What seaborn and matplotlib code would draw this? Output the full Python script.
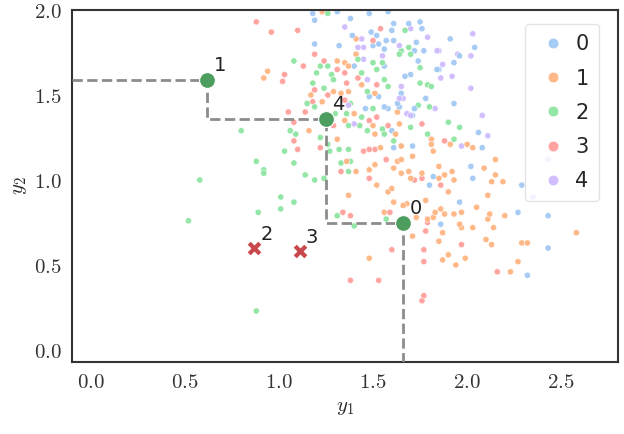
import numpy as np
import pandas as pd
import seaborn as sns
import matplotlib.pyplot as plt
from matplotlib.ticker import FuncFormatter

# scatter values per class
y1_c0 = [1.18, 1.31, 1.19, 1.38, 1.48, 1.58, 1.61, 1.69, 1.75, 1.76, 1.49, 1.52, 1.39, 1.57, 1.61, 1.60,
         1.19, 1.32, 1.50, 1.53, 1.56, 1.73, 1.72, 1.77, 1.74, 1.40, 1.56, 1.84, 1.67, 1.70, 1.65, 1.48,
         1.53, 1.78, 1.63, 1.46, 1.56, 1.58, 1.64, 1.72, 1.71, 1.60, 1.61, 1.71, 1.82, 1.80, 1.91, 2.04,
         1.96, 1.93, 1.85, 1.93, 2.06, 2.08, 2.02, 2.03, 2.29, 1.86, 1.96, 2.27, 2.43, 2.43, 2.32, 1.65]
y2_c0 = [1.98, 1.99, 1.94, 1.95, 1.98, 1.99, 1.92, 1.92, 1.93, 1.89, 1.87, 1.85, 1.85, 1.82, 1.82, 1.88,
         1.80, 1.79, 1.79, 1.80, 1.77, 1.81, 1.76, 1.76, 1.70, 1.67, 1.67, 1.65, 1.61, 1.62, 1.51, 1.49,
         1.49, 1.48, 1.45, 1.42, 1.43, 1.42, 1.43, 1.42, 1.38, 1.29, 1.19, 1.20, 1.02, 0.97, 1.83, 1.78,
         1.73, 1.69, 1.65, 1.45, 1.28, 1.19, 1.08, 1.01, 0.97, 0.74, 0.87, 0.81, 0.79, 0.60, 0.44, 1.20]

y1_c1 = [1.23, 1.41, 1.41, 1.31, 1.35, 1.37, 0.94, 0.92, 1.44, 1.29, 1.33, 1.37, 1.51, 1.17, 1.23, 1.40,
         1.63, 1.35, 1.50, 1.64, 1.16, 1.51, 1.62, 1.81, 1.31, 1.54, 1.65, 1.81, 1.82, 1.71, 1.36, 1.51,
         1.63, 1.65, 1.41, 1.48, 1.61, 1.65, 1.69, 1.70, 1.76, 1.52, 1.60, 1.58, 1.37, 1.91, 2.00, 2.03,
         2.15, 2.09, 2.15, 1.85, 1.92, 1.88, 1.85, 1.93, 2.19, 2.13, 1.90, 2.11, 1.61, 1.66, 1.68, 1.56,
         1.78, 1.86, 1.88, 1.83, 1.79, 1.82, 1.73, 1.93, 1.97, 2.05, 2.12, 2.11, 2.20, 1.96, 1.97, 2.03,
         2.14, 1.87, 1.71, 2.58, 1.85, 2.10, 2.13, 2.29, 2.32, 1.90, 1.87, 1.99, 2.27, 1.94, 2.23, 1.48]
y2_c1 = [1.99, 1.83, 1.74, 1.70, 1.69, 1.67, 1.64, 1.60, 1.56, 1.52, 1.51, 1.52, 1.51, 1.50, 1.46, 1.39,
         1.40, 1.35, 1.32, 1.33, 1.29, 1.27, 1.27, 1.24, 1.24, 1.19, 1.20, 1.21, 1.17, 1.14, 1.11, 1.09,
         1.11, 1.12, 1.05, 1.06, 1.07, 1.04, 1.05, 1.01, 1.04, 0.97, 0.95, 0.93, 0.91, 1.21, 1.21, 1.19,
         1.12, 1.07, 1.03, 1.08, 1.05, 1.03, 1.01, 1.00, 0.99, 0.99, 0.93, 0.91, 0.87, 0.85, 0.86, 0.81,
         0.88, 0.83, 0.80, 0.81, 0.77, 0.78, 0.78, 0.80, 0.81, 0.84, 0.80, 0.77, 0.79, 0.74, 0.72, 0.72,
         0.72, 0.69, 0.67, 0.69, 0.64, 0.65, 0.62, 0.63, 0.63, 0.56, 0.53, 0.54, 0.52, 0.50, 0.46, 0.54]

y1_c2 = [1.26, 1.67, 1.65, 1.69, 1.64, 1.70, 1.08, 1.42, 1.50, 1.55, 1.22, 1.26, 1.52, 1.75, 1.20, 1.28,
         1.44, 1.56, 1.29, 1.18, 1.58, 1.75, 1.79, 1.81, 1.24, 1.47, 1.15, 1.38, 1.19, 1.50, 1.74, 1.80,
         1.30, 1.36, 1.44, 1.37, 1.43, 1.55, 1.70, 1.06, 1.09, 1.47, 1.56, 1.61, 1.79, 1.22, 1.26, 1.27,
         1.32, 1.37, 1.03, 0.88, 1.08, 1.33, 1.38, 0.92, 0.92, 1.14, 1.37, 1.19, 1.24, 1.01, 1.90, 1.96,
         1.93, 1.08, 1.01, 0.89, 1.31, 1.40, 1.57, 0.88, 0.80, 0.58, 0.52]
y2_c2 = [1.98, 1.88, 1.76, 1.78, 1.74, 1.74, 1.70, 1.71, 1.69, 1.69, 1.67, 1.67, 1.65, 1.66, 1.63, 1.62,
         1.63, 1.59, 1.59, 1.57, 1.55, 1.57, 1.56, 1.55, 1.54, 1.52, 1.45, 1.45, 1.43, 1.42, 1.44, 1.43,
         1.39, 1.39, 1.37, 1.32, 1.32, 1.30, 1.31, 1.29, 1.27, 1.29, 1.27, 1.23, 1.27, 1.25, 1.21, 1.17,
         1.18, 1.18, 1.17, 1.11, 1.10, 1.10, 1.11, 1.06, 1.04, 1.03, 1.05, 1.00, 1.01, 0.90, 1.34, 1.31,
         1.24, 0.87, 0.83, 0.81, 0.79, 0.73, 0.77, 0.23, 1.29, 1.00, 0.76]

y1_c3 = [0.88, 0.96, 1.10, 1.54, 1.50, 1.19, 1.13, 1.24, 1.31, 1.03, 1.02, 1.35, 1.42, 1.36, 1.52, 1.19,
         1.26, 1.18, 1.35, 1.05, 1.14, 1.48, 1.52, 1.08, 1.29, 1.58, 1.76, 1.08, 1.10, 1.22, 1.45, 1.48,
         1.51, 1.57, 1.33, 1.72, 1.76, 1.48, 1.88, 1.86, 1.59, 1.79, 1.78, 1.97, 1.60, 1.77, 1.77, 2.16,
         1.53, 1.77, 1.34, 1.38, 1.38, 1.76]
y2_c3 = [1.93, 1.87, 1.88, 1.89, 1.82, 1.74, 1.67, 1.70, 1.65, 1.62, 1.58, 1.63, 1.60, 1.57, 1.56, 1.53,
         1.50, 1.46, 1.47, 1.40, 1.40, 1.35, 1.37, 1.34, 1.32, 1.32, 1.33, 1.23, 1.18, 1.19, 1.17, 1.18,
         1.18, 1.12, 1.05, 1.00, 1.01, 1.01, 1.23, 0.97, 0.81, 0.75, 0.70, 0.62, 0.59, 0.59, 0.52, 0.46,
         0.41, 0.32, 0.81, 0.79, 0.41, 0.29]

y1_c4 = [1.70, 1.35, 1.44, 1.79, 1.42, 1.45, 1.64, 1.84, 1.55, 1.45, 1.47, 1.65, 1.64, 1.37, 1.83, 1.68,
         1.40, 2.03, 1.85, 1.95, 2.02, 1.87, 1.92, 1.86, 2.02, 2.08, 2.11, 1.97, 1.70, 1.66, 2.43, 2.35]
y2_c4 = [1.89, 1.90, 1.83, 1.84, 1.78, 1.78, 1.79, 1.76, 1.73, 1.71, 1.59, 1.55, 1.48, 1.44, 1.42, 1.39,
         1.33, 1.86, 1.76, 1.74, 1.73, 1.68, 1.61, 1.60, 1.54, 1.38, 1.26, 1.20, 1.38, 1.48, 1.12, 0.90]

# highlighted solutions
front_y1 = [0.62, 1.25, 1.66]
front_y2 = [1.59, 1.36, 0.75]
front_lab = ["1", "4", "0"]
other_y1 = [0.87, 1.11]
other_y2 = [0.60, 0.58]
other_lab = ["2", "3"]

xs = [y1_c0, y1_c1, y1_c2, y1_c3, y1_c4]
ys = [y2_c0, y2_c1, y2_c2, y2_c3, y2_c4]
df = pd.concat([pd.DataFrame({"y1": a, "y2": b, "cls": str(i)}) for i, (a, b) in enumerate(zip(xs, ys))],
               ignore_index=True)
df = df.sample(frac=1, random_state=3).reset_index(drop=True)  # mix drawing order only

sns.set_style("white")
plt.rcParams["mathtext.fontset"] = "cm"
plt.rcParams["font.family"] = ["DejaVu Sans"]

fig, ax = plt.subplots(figsize=(6.24, 4.34), dpi=100)
fig.subplots_adjust(left=0.115, right=0.99, top=0.977, bottom=0.166)

sns.scatterplot(data=df, x="y1", y="y2", hue="cls", hue_order=["0", "1", "2", "3", "4"],
                palette="pastel", s=20, edgecolor="white", linewidth=0.4, alpha=0.95, ax=ax)

xlo, xhi = -0.1, 2.8
ylo, yhi = -0.07, 2.0
# dashed front line
px = [xlo] + front_y1 + [front_y1[-1]]
py = [front_y2[0]] + front_y2 + [ylo]
ax.plot(px, py, ls="--", color="#8c8c8c", lw=2, drawstyle="steps-pre", zorder=3)

ax.scatter(front_y1, front_y2, s=130, color="#4d9d5f", edgecolor="white", linewidth=0.8, zorder=4)
ax.scatter(other_y1, other_y2, s=120, marker="X", color="#c8484c", edgecolor="white", linewidth=0.8, zorder=4)
for a, b, t in zip(front_y1 + other_y1, front_y2 + other_y2, front_lab + other_lab):
    ax.annotate(t, (a, b), xytext=(9, 10), textcoords="offset points",
                ha="center", va="center", fontsize=14, color="#222222")

ax.set_xlim(xlo, xhi)
ax.set_ylim(ylo, yhi)
ax.set_xticks([0, 0.5, 1.0, 1.5, 2.0, 2.5])
ax.set_yticks([0, 0.5, 1.0, 1.5, 2.0])
fmt = FuncFormatter(lambda v, p: f"${v:.1f}$")
ax.xaxis.set_major_formatter(fmt)
ax.yaxis.set_major_formatter(fmt)
ax.tick_params(labelsize=15, colors="#333333")
ax.set_xlabel("$y_1$", fontsize=15)
ax.set_ylabel("$y_2$", fontsize=15)
for sp in ax.spines.values():
    sp.set_linewidth(1.5)
    sp.set_color("#333333")

leg = ax.legend(loc="upper right", fontsize=15, markerscale=1.7, labelspacing=0.68,
                handletextpad=0.3, handlelength=1.6, borderpad=0.5, frameon=True,
                bbox_to_anchor=(0.985, 0.99))
leg.get_frame().set_edgecolor("#dddddd")
leg.set_title(None)

fig.savefig("out.png", dpi=100)
